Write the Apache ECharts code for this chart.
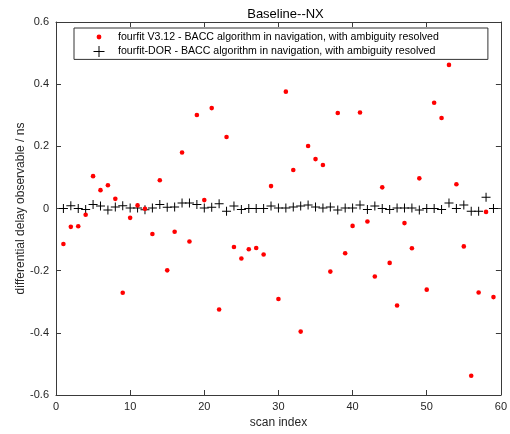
<!DOCTYPE html>
<html>
<head>
<meta charset="utf-8">
<script src="https://cdn.jsdelivr.net/npm/echarts@6/dist/echarts.min.js"></script>
<style>
  html, body { margin: 0; padding: 0; background: #fff; }
  #chart { width: 510px; height: 434px; }
</style>
</head>
<body>
<div id="chart"></div>
<script>
// Scan indices 1..59
const scanIndex = [];
for (let i = 1; i <= 59; i++) scanIndex.push(i);

// fourfit V3.12 delay differences (ns), one per scan
const fourfitV312 = [
  -0.114, -0.059, -0.057, -0.020, 0.104, 0.059, 0.075, 0.031, -0.271, -0.030,
   0.010, -0.001, -0.082, 0.091, -0.199, -0.075, 0.180, -0.106, 0.301, 0.027,
   0.323, -0.325, 0.230, -0.124, -0.161, -0.131, -0.127, -0.148, 0.072, -0.291,
   0.376, 0.124, -0.396, 0.201, 0.159, 0.140, -0.203, 0.307, -0.144, -0.056,
   0.309, -0.042, -0.219, 0.068, -0.175, -0.312, -0.047, -0.128, 0.097, -0.261,
   0.340, 0.291, 0.462, 0.078, -0.122, -0.538, -0.270, -0.011, -0.285
];

// fourfit-DOR delay differences (ns), one per scan
const fourfitDOR = [
   0.000, 0.009, 0.000, -0.003, 0.013, 0.008, -0.005, 0.005, 0.009, 0.002,
   0.002, -0.004, 0.002, 0.013, 0.004, 0.005, 0.018, 0.018, 0.013, 0.002,
   0.004, 0.015, -0.009, 0.008, -0.003, 0.000, 0.000, 0.000, 0.008, 0.002,
   0.002, 0.005, 0.008, 0.011, 0.005, 0.002, 0.005, -0.005, 0.002, 0.002,
   0.011, -0.003, 0.008, 0.000, -0.003, 0.002, 0.002, 0.002, -0.005, 0.000,
   0.000, -0.003, 0.018, 0.000, 0.011, -0.009, -0.009, 0.036, 0.000
];

const xTicks = { min: 0, max: 60, step: 10 };
const yTicks = { min: -0.6, max: 0.6, step: 0.2 };

const seriesNames = [
  'fourfit V3.12 - BACC algorithm in navigation, with ambiguity resolved',
  'fourfit-DOR - BACC algorithm in navigation, with ambiguity resolved'
];

const pairs = (xs, ys) => xs.map((x, i) => [x, ys[i]]);

// Filled plus glyph (1px strokes when drawn at size 9)
const plusPath = 'path://M4,0h1v4h4v1h-4v4h-1v-4h-4v-1h4z';
// Legend icons padded into a 20x12 box so the glyph sits near the left
const legendDot = 'path://M0,0M20,12M3.6,6A2.4,2.4 0 1,1 8.4,6A2.4,2.4 0 1,1 3.6,6Z';
const legendPlus = 'path://M0,0M20,12M5.5,0.5h1v5h5v1h-5v5h-1v-5h-5v-1h5z';

const axisColor = '#3a3a3a';
const labelColor = '#262626';
const font = 'Liberation Sans, Arial, sans-serif';

const chart = echarts.init(document.getElementById('chart'), null, { renderer: 'canvas' });

const baseX = {
  type: 'value', min: xTicks.min, max: xTicks.max, interval: xTicks.step,
  splitLine: { show: false },
  axisLine: { show: true, onZero: false, lineStyle: { color: axisColor, width: 1 } },
  axisTick: { show: true, inside: true, length: 5, lineStyle: { color: axisColor } }
};
const baseY = {
  type: 'value', min: yTicks.min, max: yTicks.max, interval: yTicks.step,
  splitLine: { show: false },
  axisLine: { show: true, onZero: false, lineStyle: { color: axisColor, width: 1 } },
  axisTick: { show: true, inside: true, length: 5, lineStyle: { color: axisColor } }
};

chart.setOption({
  animation: false,
  backgroundColor: '#ffffff',
  title: {
    text: 'Baseline--NX',
    left: 280.5, top: 3, textAlign: 'center',
    textStyle: { fontFamily: font, fontSize: 13, fontWeight: 'normal', color: '#000' }
  },
  legend: {
    orient: 'vertical',
    left: 74, top: 28,
    padding: [3, 49, 2, 19],
    itemWidth: 20, itemHeight: 12, itemGap: 2.4,
    borderColor: '#333', borderWidth: 1,
    backgroundColor: '#fff',
    selectedMode: false,
    textStyle: { fontFamily: font, fontSize: 10.6, color: '#000' },
    data: [
      { name: seriesNames[0], icon: legendDot, itemStyle: { color: '#ff0000', opacity: 1 } },
      { name: seriesNames[1], icon: legendPlus, itemStyle: { color: '#000', opacity: 1 } }
    ]
  },
  grid: { left: 56, right: 5, top: 22, bottom: 38, containLabel: false },
  xAxis: [
    Object.assign({}, baseX, {
      position: 'bottom',
      name: 'scan index', nameLocation: 'middle', nameGap: 22,
      nameMoveOverlap: false,
      nameTextStyle: { fontFamily: font, fontSize: 12, color: labelColor },
      axisLabel: { fontFamily: font, fontSize: 11, color: labelColor, margin: 6 }
    }),
    Object.assign({}, baseX, { position: 'top', axisLabel: { show: false } })
  ],
  yAxis: [
    Object.assign({}, baseY, {
      position: 'left',
      name: 'differential delay observable / ns', nameLocation: 'middle', nameGap: 29,
      nameMoveOverlap: false,
      nameRotate: 90,
      nameTextStyle: { fontFamily: font, fontSize: 12, color: labelColor },
      axisLabel: {
        fontFamily: font, fontSize: 11, color: labelColor, margin: 7,
        formatter: v => String(Math.round(v * 10) / 10)
      }
    }),
    Object.assign({}, baseY, { position: 'right', axisLabel: { show: false } })
  ],
  series: [
    {
      name: seriesNames[0], type: 'scatter',
      xAxisIndex: 0, yAxisIndex: 0,
      symbol: 'circle', symbolSize: 4.6,
      itemStyle: { color: '#ff0000', opacity: 1 },
      data: pairs(scanIndex, fourfitV312),
      z: 3
    },
    {
      name: seriesNames[1], type: 'scatter',
      xAxisIndex: 0, yAxisIndex: 0,
      symbol: plusPath, symbolSize: 9,
      itemStyle: { color: '#000', opacity: 1 },
      data: pairs(scanIndex, fourfitDOR),
      z: 2
    }
  ]
});
</script>
</body>
</html>
